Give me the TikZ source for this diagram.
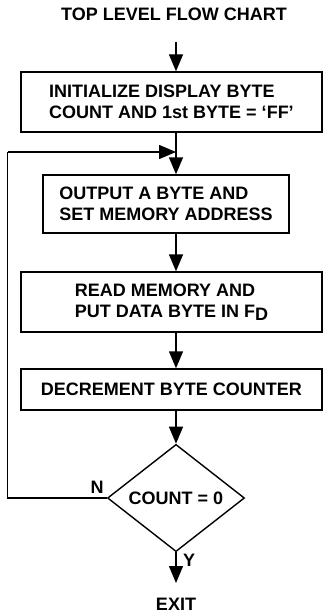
\documentclass[tikz,border=0pt]{standalone}
\usepackage{fontspec}
\setmainfont{Liberation Sans}
\usetikzlibrary{shapes.geometric,arrows.meta}
\begin{document}
\begin{tikzpicture}[x=1pt,y=-1pt,
  lbl/.style={font=\fontsize{18}{21}\selectfont\bfseries, inner sep=0pt},
  procbox/.style={draw, line width=1.4pt, align=left, inner sep=0pt, font=\fontsize{18}{21}\selectfont\bfseries},
  flow/.style={line width=1.4pt, -{Triangle[length=17pt,width=14pt]}},
  plain/.style={line width=1.4pt}]
\useasboundingbox (0,0) rectangle (323,615);
\node[lbl] (title) at (174,14.5) {TOP LEVEL FLOW CHART};
\coordinate (start) at (176,42);
\node[procbox, minimum width=301pt, minimum height=60pt] (b1) at (171.5,102) {INITIALIZE DISPLAY BYTE\\COUNT AND 1st BYTE = `FF'};
\node[procbox, minimum width=246pt, minimum height=58pt] (b2) at (166,204) {OUTPUT A BYTE AND\\SET MEMORY ADDRESS};
\node[procbox, minimum width=301pt, minimum height=60pt] (b3) at (171.5,302) {READ MEMORY AND\\PUT DATA BYTE IN F\raisebox{-0.35ex}{D}};
\node[procbox, minimum width=301pt, minimum height=41pt] (b4) at (171.5,389.5) {DECREMENT BYTE COUNTER};
\node[draw, diamond, line width=1.4pt, inner sep=0pt, minimum width=137pt, minimum height=100pt, font=\fontsize{18}{21}\selectfont\bfseries] (d) at (176,498) {COUNT = 0};
\node[lbl] (exit) at (176,604) {EXIT};
\node[lbl] (n) at (97,487) {N};
\node[lbl] (y) at (189,560) {Y};
\coordinate (join) at (176,152);
\coordinate (lb) at (7.5,498);
\coordinate (lt) at (7.5,152);
\draw[flow] (start) -- (b1.north -| start);
\draw[flow] (b1.south -| join) -- (b2.north -| join);
\draw[plain] (d.west) -- (lb) -- (lt);
\draw[flow] (lt) -- (join);
\draw[flow] (b2.south -| join) -- (b3.north -| join);
\draw[flow] (b3.south -| join) -- (b4.north -| join);
\draw[flow] (b4.south -| d) -- (d.north);
\draw[flow] (d.south) -- (176,583);
\end{tikzpicture}
\end{document}
